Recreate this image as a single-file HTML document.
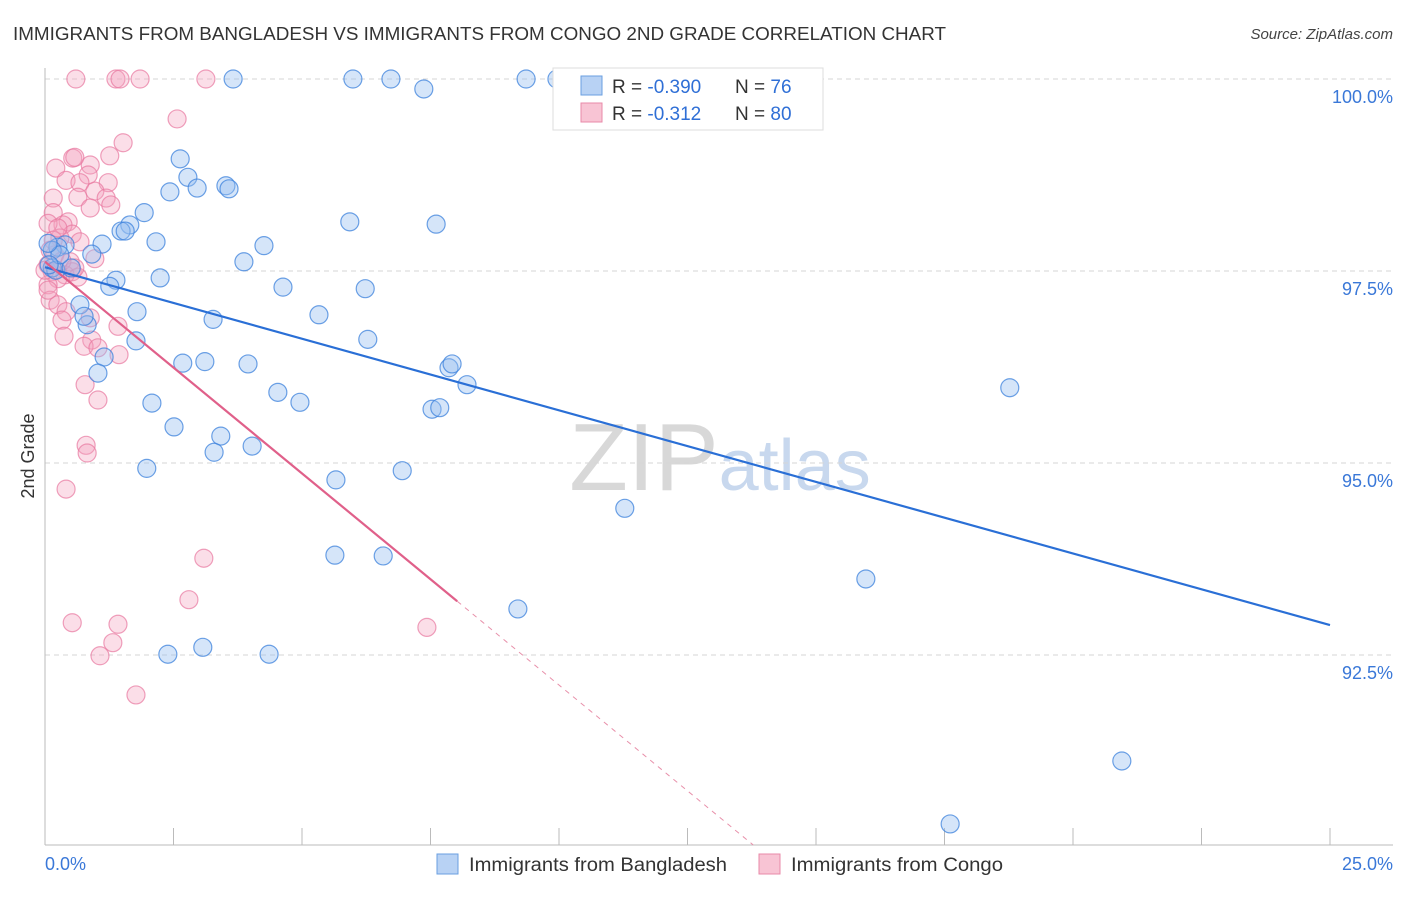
<!DOCTYPE html>
<html><head><meta charset="utf-8">
<style>
body{margin:0;background:#fff;font-family:"Liberation Sans",sans-serif;}
svg text{font-family:"Liberation Sans",sans-serif;}
</style></head>
<body>
<svg id="chart" width="1406" height="892" xmlns="http://www.w3.org/2000/svg">
<text x="13" y="40" font-size="18" fill="#333" textLength="933" lengthAdjust="spacingAndGlyphs">IMMIGRANTS FROM BANGLADESH VS IMMIGRANTS FROM CONGO 2ND GRADE CORRELATION CHART</text>
<text x="1393" y="39" font-size="15" fill="#444" text-anchor="end" font-style="italic">Source: ZipAtlas.com</text>
<text x="720" y="490" font-size="96" text-anchor="middle" fill="#ddd" font-family="Liberation Serif"><tspan fill="#d8d8d8">ZIP</tspan><tspan fill="#c8d8ee" font-family="Liberation Sans" font-size="72">atlas</tspan></text>
<g id="grid"></g>
<g id="axes"></g>
<g id="marks"></g>
<text transform="translate(34,456) rotate(-90)" font-size="18" fill="#333" text-anchor="middle">2nd Grade</text>
<g>
<rect x="553" y="68" width="270" height="62" fill="#fff" stroke="#ddd"/>
<rect x="581" y="76" width="21" height="19" fill="#b8d2f4" stroke="#6a9fe0"/>
<rect x="581" y="103" width="21" height="19" fill="#f8c4d4" stroke="#e88aa8"/>
<text x="612" y="93" font-size="19" fill="#333">R = <tspan fill="#2f6fd6">-0.390</tspan></text>
<text x="735" y="93" font-size="19" fill="#333">N = <tspan fill="#2f6fd6">76</tspan></text>
<text x="612" y="120" font-size="19" fill="#333">R =  <tspan fill="#2f6fd6">-0.312</tspan></text>
<text x="735" y="120" font-size="19" fill="#333">N = <tspan fill="#2f6fd6">80</tspan></text>
</g>
<g>
<rect x="437" y="854" width="21" height="20" fill="#b8d2f4" stroke="#6a9fe0"/>
<text x="469" y="871" font-size="19" fill="#333" textLength="258" lengthAdjust="spacingAndGlyphs">Immigrants from Bangladesh</text>
<rect x="759" y="854" width="21" height="20" fill="#f8c4d4" stroke="#e88aa8"/>
<text x="791" y="871" font-size="19" fill="#333" textLength="212" lengthAdjust="spacingAndGlyphs">Immigrants from Congo</text>
</g>
</svg>
<script>
const yTicks=[100,97.5,95,92.5];
const yTickLabels=["100.0%","97.5%","95.0%","92.5%"];
const xTickLabels=["0.0%","25.0%"];
const blueX=[3.66,5.99,6.73,7.37,9.36,9.96,2.63,2.78,2.43,2.96,3.52,3.58,1.93,1.65,1.48,1.56,2.16,1.11,0.39,0.25,0.14,5.93,7.61,4.26,3.87,0.91,1.38,2.24,4.63,6.23,0.68,1.79,3.27,5.33,0.82,0.76,1.77,6.28,2.68,3.11,3.95,7.86,7.92,8.21,1.15,1.03,4.53,4.96,2.08,7.53,7.68,2.51,3.42,3.29,4.03,1.98,6.95,5.66,11.28,18.77,5.64,6.58,9.20,15.97,2.39,3.07,4.36,20.95,17.61,1.26,0.14,0.21,0.51,0.29,0.06,0.08];
const blueY=[100,100,100,99.87,100,100,98.96,98.72,98.53,98.58,98.61,98.57,98.26,98.10,98.02,98.02,97.88,97.85,97.84,97.81,97.77,98.14,98.11,97.83,97.62,97.72,97.38,97.41,97.29,97.27,97.06,96.97,96.87,96.93,96.80,96.91,96.59,96.61,96.30,96.32,96.29,96.24,96.29,96.02,96.38,96.17,95.92,95.79,95.78,95.70,95.72,95.47,95.35,95.14,95.22,94.93,94.90,94.78,94.41,95.98,93.80,93.79,93.10,93.49,92.51,92.60,92.51,91.12,90.30,97.30,97.54,97.51,97.54,97.71,97.86,97.58];
const pinkX=[0.60,1.38,1.46,1.85,3.13,2.57,1.52,1.26,0.54,0.58,0.21,0.88,0.41,0.84,0.68,1.23,0.97,0.16,0.64,1.19,1.28,0.88,0.16,0.45,0.35,0.06,0.53,0.29,0.16,0.68,0.19,0.97,0.49,0.06,0.14,0.53,0.39,0.64,0.25,0.06,0.10,0.25,0.41,0.88,0.33,1.42,0.37,0.91,0.76,1.03,1.44,0.78,1.03,0.80,0.82,0.41,3.09,2.80,0.53,1.42,7.43,1.32,1.07,1.77,0.06,0.10,0.25,0.33,0.58,0];
const pinkY=[100,100,100,100,100,99.48,99.17,99.00,98.97,98.98,98.84,98.88,98.68,98.75,98.65,98.65,98.54,98.45,98.46,98.45,98.36,98.32,98.26,98.14,98.10,98.12,97.98,97.93,97.90,97.88,97.71,97.66,97.62,97.58,97.49,97.49,97.45,97.42,97.40,97.32,97.12,97.06,96.97,96.89,96.86,96.78,96.65,96.60,96.52,96.50,96.41,96.02,95.82,95.23,95.13,94.66,93.76,93.22,92.92,92.90,92.86,92.66,92.49,91.98,97.25,97.77,98.06,97.63,97.54,97.51];
const blueTrend=[97.55,92.89];
const pinkTrend=[97.62,93.20];
const pinkSolidEnd=8.02;

const X0=45,X1=1330,Y100=79,PXY=76.8;
const sx=v=>X0+v*(X1-X0)/25;
const sy=v=>Y100+(100-v)*PXY;
const yMin=100-(845-Y100)/PXY;
const NS="http://www.w3.org/2000/svg";
function mk(tag,attrs,parent){const e=document.createElementNS(NS,tag);for(const k in attrs)e.setAttribute(k,attrs[k]);parent.appendChild(e);return e;}
const grid=document.getElementById('grid'),axes=document.getElementById('axes'),marks=document.getElementById('marks');
yTicks.forEach((t,i)=>{
  const l=mk('line',{x1:X0,x2:1393,y1:sy(t),y2:sy(t),stroke:'#d6d6d6','stroke-dasharray':'5,4'},grid);
  
  
  const tx=mk('text',{x:1393,y:sy(t)+24,'font-size':18,fill:'#3a78d8','text-anchor':'end'},axes);
  tx.textContent=yTickLabels[i];
  
  
});
const ax=mk('line',{x1:X0,x2:1393,y1:845,y2:845,stroke:'#bbb'},axes);


const ay=mk('line',{x1:X0,x2:X0,y1:68,y2:845,stroke:'#bbb'},axes);


for(let i=1;i<=10;i++){
  const t=mk('line',{x1:sx(i*2.5),x2:sx(i*2.5),y1:828,y2:845,stroke:'#bbb'},axes);
  
  
}
const xl0=mk('text',{x:45,y:870,'font-size':18,fill:'#3a78d8'},axes);
xl0.textContent=xTickLabels[0];


const xl1=mk('text',{x:1393,y:870,'font-size':18,fill:'#3a78d8','text-anchor':'end'},axes);
xl1.textContent=xTickLabels[1];



pinkX.forEach((x,i)=>{
  const c=mk('circle',{cx:sx(x),cy:sy(pinkY[i]),r:9,fill:'rgba(244,160,188,0.35)',stroke:'rgba(232,120,160,0.7)','stroke-width':1.2},marks);
  
  
});
blueX.forEach((x,i)=>{
  const c=mk('circle',{cx:sx(x),cy:sy(blueY[i]),r:9,fill:'rgba(150,190,240,0.4)',stroke:'rgba(60,130,220,0.75)','stroke-width':1.2},marks);
  
  
});
const bl=mk('line',{x1:sx(0),y1:sy(blueTrend[0]),x2:sx(25),y2:sy(blueTrend[1]),stroke:'#2a6fd6','stroke-width':2.2},marks);


const slope=(pinkTrend[1]-pinkTrend[0])/pinkSolidEnd;
const pl=mk('line',{x1:sx(0),y1:sy(pinkTrend[0]),x2:sx(pinkSolidEnd),y2:sy(pinkTrend[1]),stroke:'#e0608a','stroke-width':2.2},marks);


const xEnd=(yMin-pinkTrend[0])/slope;
const pd=mk('line',{x1:sx(pinkSolidEnd),y1:sy(pinkTrend[1]),x2:sx(xEnd),y2:sy(yMin),stroke:'#e890aa','stroke-width':1,'stroke-dasharray':'5,5'},marks);


</script>
</body></html>
